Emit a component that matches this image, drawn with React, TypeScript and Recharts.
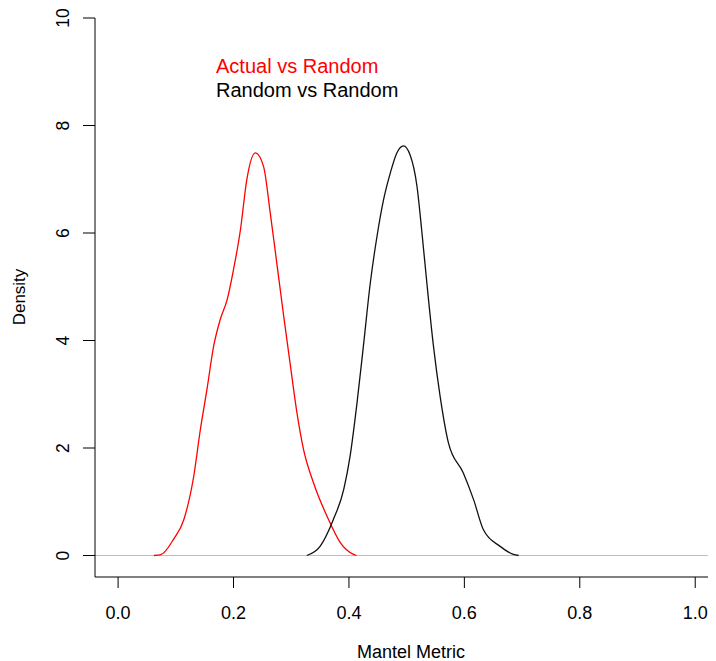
import React from 'react';
import {
  LineChart, Line, XAxis, YAxis, ReferenceLine,
} from 'recharts';

// Kernel density estimates of the Mantel metric
const actualX = [
  0.062, 0.073, 0.096, 0.114, 0.131, 0.1425, 0.154, 0.1655, 0.177, 0.189, 0.2, 0.212,
  0.223, 0.2377, 0.252, 0.2637, 0.275, 0.287, 0.298, 0.31, 0.3214, 0.3387, 0.362,
  0.385, 0.408, 0.413,
];
const actualDensity = [
  0, 0.01, 0.3, 0.67, 1.47, 2.34, 3.09, 3.89, 4.39, 4.76, 5.32, 6.06,
  6.99, 7.49, 7.24, 6.37, 5.44, 4.45, 3.58, 2.65, 1.97, 1.35, 0.73,
  0.24, 0.02, 0,
];

const randomX = [
  0.327, 0.35, 0.373, 0.391, 0.402, 0.414, 0.425, 0.437, 0.4485, 0.46, 0.4715, 0.483,
  0.4945, 0.506, 0.518, 0.526, 0.535, 0.5465, 0.558, 0.5725, 0.598, 0.616, 0.633,
  0.662, 0.685, 0.694,
];
const randomDensity = [
  0, 0.17, 0.67, 1.23, 1.85, 2.84, 3.89, 5.07, 5.93, 6.62, 7.11, 7.49,
  7.62, 7.45, 6.86, 6.06, 5.07, 3.89, 2.96, 2.09, 1.54, 1.04, 0.48,
  0.17, 0.02, 0,
];

const xTicks = [0, 0.2, 0.4, 0.6, 0.8, 1.0];
const yTicks = [0, 2, 4, 6, 8, 10];

const actualData = actualX.map((x, i) => ({ x, y: actualDensity[i] }));
const randomData = randomX.map((x, i) => ({ x, y: randomDensity[i] }));

const FONT = '"Liberation Sans", Arial, sans-serif';

const XTick = ({ x, y, payload }: any) => (
  <text x={x} y={y + 29} textAnchor="middle" fontSize={18} fontFamily={FONT} fill="#000">
    {payload.value.toFixed(1)}
  </text>
);

const YTick = ({ y, payload }: any) => (
  <text
    x={61}
    y={y}
    transform={`rotate(-90, 61, ${y})`}
    textAnchor="middle"
    fontSize={17.5}
    fontFamily={FONT}
    fill="#000"
  >
    {payload.value}
  </text>
);

export default function App() {
  return (
    <div style={{ position: 'relative', width: 708, height: 653 }}>
      <LineChart
        width={708}
        height={653}
        margin={{ top: 10, right: 0, left: 0, bottom: 0 }}
        style={{ background: '#fff' }}
      >
        <XAxis
          dataKey="x"
          type="number"
          domain={[-0.04, 1.036]}
          ticks={xTicks}
          allowDataOverflow
          height={84}
          tickSize={11}
          tickLine={{ stroke: '#000' }}
          axisLine={{ stroke: '#000' }}
          tick={<XTick />}
          label={{
            content: () => (
              <text x={403} y={650} textAnchor="middle" fontSize={18} fontFamily={FONT} fill="#000">
                Mantel Metric
              </text>
            ),
          }}
        />
        <XAxis
          xAxisId="top"
          orientation="top"
          dataKey="x"
          type="number"
          domain={[-0.04, 1.036]}
          tick={false}
          tickLine={false}
          axisLine={{ stroke: '#000' }}
          height={0}
        />
        <YAxis
          dataKey="y"
          type="number"
          domain={[-0.4, 10]}
          ticks={yTicks}
          allowDataOverflow
          width={87}
          tickSize={12}
          tickLine={{ stroke: '#000' }}
          axisLine={{ stroke: '#000' }}
          tick={<YTick />}
          label={{
            content: () => (
              <text
                x={17}
                y={289}
                transform="rotate(-90, 17, 289)"
                textAnchor="middle"
                fontSize={17}
                fontFamily={FONT}
                fill="#000"
              >
                Density
              </text>
            ),
          }}
        />
        <ReferenceLine y={0} stroke="#bebebe" strokeWidth={1.2} />
        <Line
          data={actualData}
          dataKey="y"
          type="monotone"
          stroke="#ff0000"
          strokeWidth={1.3}
          dot={false}
          isAnimationActive={false}
        />
        <Line
          data={randomData}
          dataKey="y"
          type="monotone"
          stroke="#111"
          strokeWidth={1.3}
          dot={false}
          isAnimationActive={false}
        />
      </LineChart>
      {/* legend text, drawn without keys */}
      <div
        style={{
          position: 'absolute', top: 46, left: 208,
          fontFamily: FONT, fontSize: 20, lineHeight: '24px', whiteSpace: 'nowrap',
        }}
      >
        <div style={{ color: '#ff0000' }}>Actual vs Random</div>
        <div style={{ color: '#000' }}>Random vs Random</div>
      </div>
    </div>
  );
}
